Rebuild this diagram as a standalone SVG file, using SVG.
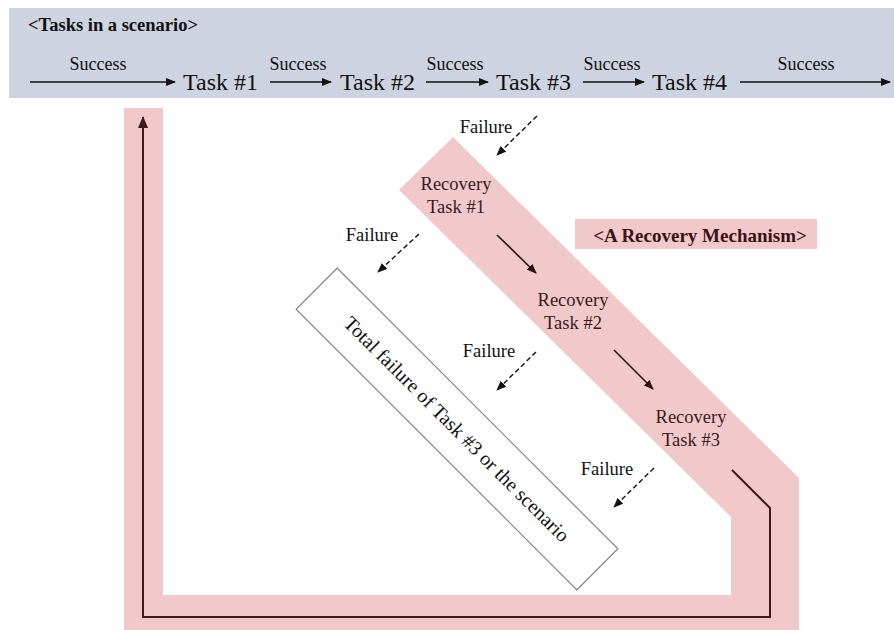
<svg xmlns="http://www.w3.org/2000/svg" width="894" height="630" viewBox="0 0 894 630">
<style>
.serif{font-family:"Liberation Serif","Times New Roman",serif;}
.succ{font-size:18px;fill:#111;text-anchor:middle;}
.task{font-size:24px;fill:#111;}
.lbl{font-size:18.5px;fill:#111;text-anchor:middle;}
.rec{font-size:18.5px;fill:#3a1a1c;text-anchor:middle;}
.flow{stroke:#111;stroke-width:1.4;fill:none;marker-end:url(#ah);}
.fail{stroke:#111;stroke-width:1.4;fill:none;stroke-dasharray:5 3;marker-end:url(#ah);}
.rflow{stroke:#2a1012;stroke-width:1.6;fill:none;marker-end:url(#ahr);}
</style>
<defs>
<marker id="ah" markerWidth="10" markerHeight="8" refX="9" refY="4" orient="auto" markerUnits="userSpaceOnUse">
<path d="M0,0 L10,4 L0,8 Z" fill="#111"/>
</marker>
<marker id="ahr" markerWidth="10" markerHeight="8" refX="9" refY="4" orient="auto" markerUnits="userSpaceOnUse">
<path d="M0,0 L10,4 L0,8 Z" fill="#2a1012"/>
</marker>
<marker id="ahb" markerWidth="12" markerHeight="10" refX="11" refY="5" orient="auto" markerUnits="userSpaceOnUse">
<path d="M0,0 L12,5 L0,10 Z" fill="#3e1a1e"/>
</marker>
</defs>
<rect width="894" height="630" fill="#fff"/>
<g id="scenario">
<rect x="9" y="8" width="885" height="90" fill="#CDD3E0"/>
<text class="serif" x="28" y="31" font-size="18.5" font-weight="bold" fill="#111">&lt;Tasks in a scenario&gt;</text>
</g>
<g id="recovery-band">
<polygon points="124,108 163,108 163,595 731,595 731,517 399,190 453,137 799,478 799,630 124,630" fill="#F2C9CB"/>
</g>
<g id="recovery-title">
<rect x="575" y="219" width="242" height="30" fill="#F2C9CB"/>
<text class="serif" x="700" y="242" font-size="19" font-weight="bold" fill="#3a1216" text-anchor="middle">&lt;A Recovery Mechanism&gt;</text>
</g>
<g id="task1"><text class="serif task" x="183" y="90">Task #1</text></g>
<g id="task2"><text class="serif task" x="340" y="90">Task #2</text></g>
<g id="task3"><text class="serif task" x="496" y="90">Task #3</text></g>
<g id="task4"><text class="serif task" x="652" y="90">Task #4</text></g>
<g id="rtask1"><text class="serif rec" x="456" y="190">Recovery</text><text class="serif rec" x="456" y="213">Task #1</text></g>
<g id="rtask2"><text class="serif rec" x="573" y="306">Recovery</text><text class="serif rec" x="573" y="329">Task #2</text></g>
<g id="rtask3"><text class="serif rec" x="691" y="423">Recovery</text><text class="serif rec" x="691" y="446">Task #3</text></g>
<g id="total-failure">
<rect x="258.5" y="400" width="397" height="58" transform="rotate(45 457 429)" fill="#fff" stroke="#808080" stroke-width="1.2"/>
<text class="serif" x="457" y="436" font-size="20" fill="#111" text-anchor="middle" transform="rotate(45 457 429)">Total failure of Task #3 or the scenario</text>
</g>
<g id="connectors">
<line class="flow" x1="30" y1="82" x2="175" y2="82"/>
<line class="flow" x1="270" y1="82" x2="331" y2="82"/>
<line class="flow" x1="426" y1="82" x2="488" y2="82"/>
<line class="flow" x1="583" y1="82" x2="644" y2="82"/>
<line class="flow" x1="740" y1="82" x2="890" y2="82"/>
<text class="serif succ" x="98" y="70">Success</text>
<text class="serif succ" x="298" y="70">Success</text>
<text class="serif succ" x="455" y="70">Success</text>
<text class="serif succ" x="612" y="70">Success</text>
<text class="serif succ" x="806" y="70">Success</text>
<line class="fail" x1="537" y1="116" x2="497" y2="155"/>
<text class="serif lbl" x="486" y="133">Failure</text>
<line class="fail" x1="419" y1="234" x2="378" y2="272"/>
<text class="serif lbl" x="372" y="241">Failure</text>
<line class="fail" x1="536" y1="352" x2="497" y2="390"/>
<text class="serif lbl" x="489" y="357">Failure</text>
<line class="fail" x1="654" y1="468" x2="614" y2="507"/>
<text class="serif lbl" x="607" y="475">Failure</text>
<line class="rflow" x1="497" y1="235" x2="536" y2="273"/>
<line class="rflow" x1="614" y1="350" x2="653" y2="389"/>
<polyline points="732,470 770,508 770,617 143,617 143,117" fill="none" stroke="#3e1a1e" stroke-width="2" marker-end="url(#ahb)"/>
</g>
</svg>
